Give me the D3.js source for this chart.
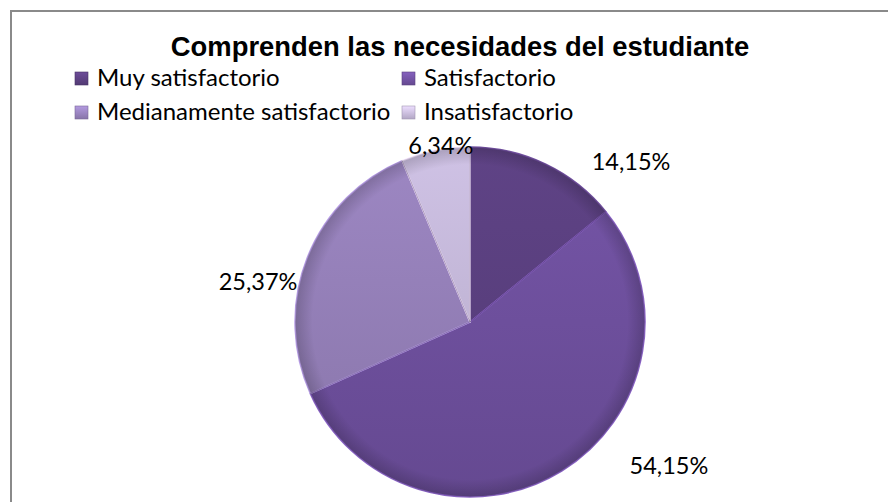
<!DOCTYPE html>
<html><head><meta charset="utf-8">
<script src="https://cdn.jsdelivr.net/npm/d3@7"></script>
<style>html,body{margin:0;padding:0;background:#fff;}svg{display:block;}</style>
</head><body>
<script>
const categories = ["Muy satisfactorio", "Satisfactorio", "Medianamente satisfactorio", "Insatisfactorio"];
const values = [14.15, 54.15, 25.37, 6.34];
const valueLabels = ["14,15%", "54,15%", "25,37%", "6,34%"];
const colors = ["#5b4080", "#7051a0", "#9681bb", "#c6badb"];
const title = "Comprenden las necesidades del estudiante";

const W = 888, H = 502;
const svg = d3.select("body").append("svg").attr("width", W).attr("height", H);
const defs = svg.append("defs");

// chart frame (left and top edges visible)
svg.append("rect").attr("x", 11).attr("y", 11).attr("width", 900).attr("height", 520)
  .attr("fill", "#fff").attr("stroke", "#8a8a8a").attr("stroke-width", 2);

svg.append("text").attr("x", 460).attr("y", 56).attr("text-anchor", "middle")
  .attr("font-family", "Liberation Sans, Arial, sans-serif").attr("font-weight", "bold")
  .attr("font-size", 27.4).attr("fill", "#000").text(title);

// legend
const legFont = "Lato, 'Open Sans', sans-serif";
const legX = d3.scaleOrdinal().domain([0, 1]).range([75, 402]);
const legY = d3.scaleOrdinal().domain([0, 1]).range([72, 106]);
const leg = svg.append("g");
categories.forEach((c, i) => {
  const col = i % 2, row = Math.floor(i / 2);
  const g = leg.append("g").attr("transform", `translate(${legX(col)},${legY(row)})`);
  const gid = "lg" + i;
  const lg = defs.append("linearGradient").attr("id", gid).attr("x1", 0).attr("y1", 0).attr("x2", 0).attr("y2", 1);
  lg.append("stop").attr("offset", 0).attr("stop-color", d3.color(colors[i]).brighter(0.5));
  lg.append("stop").attr("offset", 1).attr("stop-color", d3.color(colors[i]).darker(0.3));
  g.append("rect").attr("width", 13).attr("height", 13).attr("fill", `url(#${gid})`)
    .attr("stroke", d3.color(colors[i]).darker(0.6)).attr("stroke-width", 0.6);
  g.append("text").attr("x", 22).attr("y", 14).attr("font-family", legFont)
    .attr("font-size", 24).attr("fill", "#000").text(c);
});

// pie
const cx = 470, cy = 322, R = 175;
const pie = d3.pie().sort(null).value(d => d)(values);
const arc = d3.arc().innerRadius(0).outerRadius(R);
const pg = svg.append("g").attr("transform", `translate(${cx},${cy})`);

pie.forEach((p, i) => {
  const gid = "sg" + i;
  const lg = defs.append("linearGradient").attr("id", gid).attr("gradientUnits", "userSpaceOnUse")
    .attr("x1", 0).attr("y1", -R).attr("x2", 0).attr("y2", R);
  lg.append("stop").attr("offset", 0).attr("stop-color", d3.color(colors[i]).brighter(0.12));
  lg.append("stop").attr("offset", 1).attr("stop-color", d3.color(colors[i]).darker(0.28));
});

pg.selectAll("path.slice").data(pie).join("path").attr("class", "slice")
  .attr("d", arc).attr("fill", (d, i) => `url(#sg${i})`)
  .attr("stroke", (d, i) => d3.color(colors[i]).brighter(0.6)).attr("stroke-width", 1.5)
  .attr("stroke-linejoin", "round");

// rim shading
const rg = defs.append("radialGradient").attr("id", "rim").attr("gradientUnits", "userSpaceOnUse")
  .attr("cx", 0).attr("cy", 0).attr("r", R);
rg.append("stop").attr("offset", 0.9).attr("stop-color", "#000").attr("stop-opacity", 0);
rg.append("stop").attr("offset", 1).attr("stop-color", "#000").attr("stop-opacity", 0.18);
pg.append("circle").attr("r", R).attr("fill", "url(#rim)");

// slice edge shadows
pg.selectAll("path.edge").data(pie).join("path").attr("class", "edge")
  .attr("d", d => {
    const a = d.startAngle;
    return `M0,0L${R * Math.sin(a)},${-R * Math.cos(a)}`;
  })
  .attr("stroke", "rgba(40,25,60,0.35)").attr("stroke-width", 1).attr("fill", "none");

// data labels (polar offsets from pie center)
const labelPolar = [[227, 45.2], [245.6, 125.9], [215.7, 280.7], [178.4, 350.6]];
pg.selectAll("text.lab").data(pie).join("text").attr("class", "lab")
  .attr("x", (d, i) => labelPolar[i][0] * Math.sin(labelPolar[i][1] * Math.PI / 180))
  .attr("y", (d, i) => -labelPolar[i][0] * Math.cos(labelPolar[i][1] * Math.PI / 180))
  .attr("dy", "0.35em").attr("text-anchor", "middle")
  .attr("font-family", legFont).attr("font-size", 23.5).attr("fill", "#000")
  .text((d, i) => valueLabels[i]);
</script>
</body></html>
